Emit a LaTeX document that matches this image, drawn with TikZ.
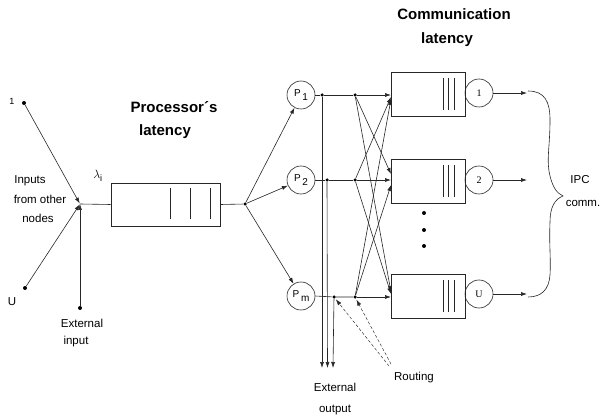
\documentclass[tikz,border=0pt]{standalone}
\usepackage{fontspec}
\setmainfont{Liberation Sans}
\newfontfamily\seriffont{Liberation Serif}
\usetikzlibrary{arrows.meta}
\begin{document}
\begin{tikzpicture}[x=1pt,y=-1pt, line width=0.6pt, draw=black!85,
 arr/.style={-{Latex[length=6pt,width=4pt]}},
 dot/.style={circle,fill=black,draw=none,inner sep=0pt,minimum size=4pt},
 sdot/.style={circle,fill=black,draw=none,inner sep=0pt,minimum size=3.5pt},
 proc/.style={circle,draw,minimum size=28pt,inner sep=0pt},
 qbox/.style={draw,minimum width=74pt,minimum height=44pt,inner sep=0pt},
 lbl/.style={font=\fontsize{11.5}{13}\selectfont,inner sep=0pt},
 ttl/.style={font=\fontsize{15}{17}\selectfont\bfseries,inner sep=0pt},
 plbl/.style={font=\fontsize{10}{12}\selectfont},
 route/.style={densely dashed,line width=0.45pt,-{Latex[length=6pt,width=4pt]}}]
\useasboundingbox (0,0) rectangle (603,417);

% inputs
\node[dot] (in1) at (24,103) {};
\node[dot] (inU) at (25,288) {};
\node[dot] (ext) at (80,308) {};
\coordinate (j) at (80,204);
\draw[arr,shorten >=0.5pt] (in1) -- (j);
\draw[arr,shorten >=0.5pt] (inU) -- (j);
\draw[arr] (ext) -- (j);

\node[lbl] (l1) at (12,101) {\fontsize{9}{10}\selectfont 1};
\node[lbl] (lU) at (12,302) {U};
\node[lbl] (t1) at (30,181) {Inputs};
\node[lbl] (t2) at (40,199) {from other};
\node[lbl] (t3) at (38,218) {nodes};
\node[lbl] (t4) at (82,323) {External};
\node[lbl] (t5) at (76,342) {input};
\node[inner sep=0pt,font=\fontsize{13}{15}\selectfont] (lam) at (98,176) {$\lambda_{\mathrm{i}}$};

% processor queue
\node[qbox,minimum width=109pt,minimum height=43pt] (pq) at (165.5,204.5) {};
\draw (170,188) -- (170,219);
\draw (190,188) -- (190,219);
\draw (210,188) -- (210,219);
\draw (j) -- (pq.west);
\node[ttl] (pt1) at (174,107) {Processor´s};
\node[ttl] (pt2) at (165,132) {latency};

\node[sdot] (sp) at (245,204) {};
\draw (pq.east) -- (sp);

% processors
\node[proc] (P1) at (301,95) {};
\node[proc] (P2) at (301,180) {};
\node[proc] (Pm) at (301,296) {};
\node[plbl] at (P1) {P\,\raisebox{-3.5pt}{1}};
\node[plbl] at (P2) {P\,\raisebox{-3.5pt}{2}};
\node[plbl] at (Pm) {P\,\raisebox{-3.5pt}{m}};
\draw[arr] (sp) -- (P1);
\draw[arr] (sp) -- (P2);
\draw[arr] (sp) -- (Pm);

% taps and routing dots
\node[sdot] (v1) at (322,95) {};
\node[sdot] (v2) at (327,180) {};
\node[sdot] (v3) at (334,297) {};
\node[sdot] (r1) at (355,95) {};
\node[sdot] (r2) at (355,180) {};
\node[sdot] (r3) at (355,297) {};

% comm queues
\node[qbox] (q1) at (428,94) {};
\node[qbox] (q2) at (428,181) {};
\node[qbox] (qU) at (428,296) {};
\foreach \q in {q1,q2,qU}{
  \foreach \dx in {15,20,26}{
    \draw ([xshift=\dx pt,yshift=16pt]\q.center) -- ([xshift=\dx pt,yshift=-16pt]\q.center);
  }
}
\node[proc,font=\seriffont\fontsize{10}{12}\selectfont] (c1) at (479,93) {1};
\node[proc,font=\seriffont\fontsize{10}{12}\selectfont] (c2) at (479,180) {2};
\node[proc,font=\seriffont\fontsize{10}{12}\selectfont] (cU) at (479,294) {U};

% entry points
\coordinate (a11) at (391,95);
\coordinate (a21) at (391,97);
\coordinate (a31) at (391,99);
\coordinate (a12) at (391,174);
\coordinate (a22) at (391,180);
\coordinate (a32) at (391,185);
\coordinate (a13) at (391,292);
\coordinate (a23) at (391,294);
\coordinate (a33) at (391,297);

\draw (P1.east) -- (v1) -- (r1);
\draw (P2.east) -- (v2) -- (r2);
\draw (Pm.east) -- (v3) -- (r3);
\draw[arr] (r1) -- (a11);
\draw[arr] (r1) -- (a12);
\draw[arr] (r1) -- (a13);
\draw[arr] (r2) -- (a21);
\draw[arr] (r2) -- (a22);
\draw[arr] (r2) -- (a23);
\draw[arr] (r3) -- (a31);
\draw[arr] (r3) -- (a32);
\draw[arr] (r3) -- (a33);

% external outputs
\coordinate (o1) at (322,368);
\coordinate (o2) at (327.5,368);
\coordinate (o3) at (333,368);
\draw[arr] (v1) -- (o1);
\draw[arr] (v2) -- (o2);
\draw[arr] (v3) -- (o3);
\node[lbl] (eo1) at (335,387) {External};
\node[lbl] (eo2) at (335,410) {output};

% routing
\coordinate (rs1) at (389,366);
\coordinate (rs2) at (391,364);
\draw[route,shorten >=1pt] (rs1) -- (v3);
\draw[route,shorten >=1pt] (rs2) -- (r3);
\node[lbl] (rt) at (414,378) {Routing};

% dots between queues
\node[dot] (d1) at (424,213) {};
\node[dot] (d2) at (424,230) {};
\node[dot] (d3) at (424,246) {};

% outputs
\coordinate (e1) at (527,93);
\coordinate (e2) at (527,180);
\coordinate (eU) at (527,294);
\draw[arr] (c1) -- (e1);
\draw[arr] (c2) -- (e2);
\draw[arr] (cU) -- (eU);

% brace
\draw (528,91) .. controls (545,91) and (550,102) .. (550,120)
  .. controls (550,148) and (546,160) .. (550,176)
  .. controls (553,188) and (557,193) .. (563,196)
  .. controls (555,199) and (550,207) .. (550,222)
  .. controls (549,245) and (551,258) .. (550,275)
  .. controls (549,290) and (541,297) .. (528,297);
\node[lbl] (ipc1) at (580,180) {IPC};
\node[lbl] (ipc2) at (583,203) {comm.};

\node[ttl] (ct1) at (454,14) {Communication};
\node[ttl] (ct2) at (447,40) {latency};
\end{tikzpicture}
\end{document}
